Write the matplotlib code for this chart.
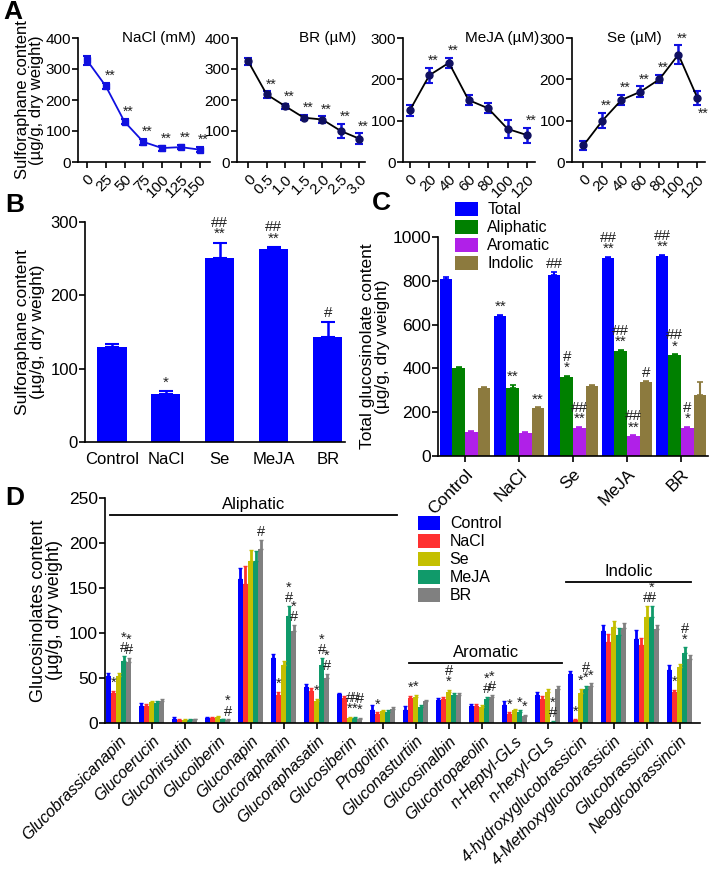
import numpy as np
import matplotlib.pyplot as plt

plt.rcParams['font.family'] = ['Liberation Sans', 'DejaVu Sans']
plt.rcParams['font.size'] = 11
plt.rcParams['axes.linewidth'] = 1.2
plt.rcParams['axes.facecolor'] = 'none'
plt.rcParams['xtick.major.width'] = 1.2
plt.rcParams['ytick.major.width'] = 1.2
plt.rcParams['xtick.major.size'] = 4
plt.rcParams['ytick.major.size'] = 4

# ---------------- data: panel A ----------------
nacl_x = [0, 25, 50, 75, 100, 125, 150]
nacl_y = [328, 245, 130, 65, 45, 48, 40]
nacl_err = [14, 10, 9, 10, 8, 6, 9]
nacl_sig = ['', '**', '**', '**', '**', '**', '**']

br_x = [0, 0.5, 1.0, 1.5, 2.0, 2.5, 3.0]
br_labels = ['0', '0.5', '1.0', '1.5', '2.0', '2.5', '3.0']
br_y = [325, 218, 180, 143, 137, 100, 75]
br_err = [12, 10, 8, 8, 10, 22, 17]
br_sig = ['', '**', '**', '**', '**', '**', '**']

meja_x = [0, 20, 40, 60, 80, 100, 120]
meja_y = [125, 210, 240, 150, 130, 80, 65]
meja_err = [13, 18, 12, 13, 12, 22, 18]
meja_sig = ['', '**', '**', '', '', '', '**']

se_x = [0, 20, 40, 60, 80, 100, 120]
se_y = [40, 100, 150, 170, 200, 260, 155]
se_err = [12, 18, 12, 13, 10, 22, 17]
se_sig = ['', '**', '**', '**', '**', '**', '**']

# ---------------- data: panel B ----------------
treatments = ['Control', 'NaCl', 'Se', 'MeJA', 'BR']
sfn_vals = [130, 65, 251, 263, 143]
sfn_err = [4, 4, 21, 3, 21]
sfn_sig = ['', '*', '##\n**', '##\n**', '#']

# ---------------- data: panel C ----------------
gsl_classes = ['Total', 'Aliphatic', 'Aromatic', 'Indolic']
total_vals = [810, 640, 825, 905, 915]
total_err = [8, 5, 15, 5, 5]
aliph_vals = [400, 310, 360, 480, 460]
aliph_err = [6, 15, 5, 4, 5]
arom_vals = [110, 105, 130, 92, 130]
arom_err = [4, 3, 3, 3, 3]
indol_vals = [310, 220, 320, 340, 280]
indol_err = [4, 3, 3, 3, 60]
total_sig = ['', '**', '##', '##\n**', '##\n**']
aliph_sig = ['', '**', '#\n*', '##\n**', '##\n*']
arom_sig = ['', '', '##\n**', '##\n**', '#\n*']
indol_sig = ['', '**', '', '#', '']

# ---------------- data: panel D ----------------
compounds = ['Glucobrassicanapin', 'Glucoerucin', 'Glucohirsutin', 'Glucoiberin',
             'Gluconapin', 'Glucoraphanin', 'Glucoraphasatin', 'Glucosiberin',
             'Progoitrin', 'Gluconasturtiin', 'Glucosinalbin', 'Glucotropaeolin',
             'n-Heptyl-GLs', 'n-hexyl-GLs', '4-hydroxyglucobrassicin',
             '4-Methoxyglucobrassicin', 'Glucobrassicin', 'Neoglcobrassincin']
d_control = [52, 19, 5, 6, 160, 72, 40, 32, 15, 15, 26, 19, 20, 31, 54, 102, 93, 59]
d_nacl = [33, 19, 3, 6, 155, 31, 36, 28, 10, 28, 27, 19, 10, 27, 3, 90, 87, 34]
d_se = [52, 23, 3, 7, 180, 64, 24, 6, 13, 29, 34, 18, 14, 35, 33, 107, 118, 62]
d_meja = [69, 22, 3, 4, 180, 119, 65, 6, 12, 18, 31, 27, 12, 1, 38, 98, 118, 78]
d_br = [68, 25, 4, 3, 193, 102, 50, 5, 16, 24, 31, 29, 8, 38, 41, 106, 104, 71]
d_control_err = [4, 3, 2, 1, 12, 5, 3, 1, 5, 4, 2, 2, 4, 3, 4, 7, 10, 6]
d_nacl_err = [3, 2, 1, 1, 20, 4, 3, 2, 2, 2, 2, 2, 2, 3, 1, 9, 8, 3]
d_se_err = [4, 2, 1, 1, 12, 5, 3, 1, 2, 2, 3, 2, 2, 3, 5, 6, 12, 4]
d_meja_err = [5, 2, 1, 1, 11, 11, 7, 1, 2, 2, 2, 2, 2, 1, 3, 8, 12, 6]
d_br_err = [4, 2, 1, 1, 10, 7, 4, 1, 2, 2, 2, 2, 1, 3, 3, 5, 5, 5]
d_sig = {(0, 1): '*', (0, 3): '*\n#', (0, 4): '*\n#',
         (3, 4): '*\n#', (4, 4): '#',
         (5, 1): '*', (5, 3): '*\n#', (5, 4): '*\n#',
         (6, 2): '*', (6, 3): '*\n#', (6, 4): '*\n#',
         (7, 2): '#\n*', (7, 3): '#\n*', (7, 4): '#\n*',
         (8, 1): '*', (9, 1): '*', (9, 2): '*', (10, 2): '#\n*',
         (11, 3): '*\n#', (11, 4): '*\n#',
         (12, 1): '*', (12, 3): '*', (12, 4): '*',
         (13, 3): '*\n#',
         (14, 1): '*', (14, 2): '*', (14, 3): '#\n*', (14, 4): '*',
         (16, 2): '#', (16, 3): '*\n#',
         (17, 1): '*', (17, 3): '#\n*'}

W, H = 709, 869
fig = plt.figure(figsize=(W / 100, H / 100), dpi=100)


def box(l, t, r, b):
    return [l / W, 1 - b / H, (r - l) / W, (b - t) / H]


def clean(ax):
    ax.spines['top'].set_visible(False)
    ax.spines['right'].set_visible(False)


ylab = 'Sulforaphane content\n(\u00b5g/g, dry weight)'
star_col = '#222222'

# ---------------- panel A ----------------
a_specs = [
    (box(78, 38, 210, 162), nacl_x, [str(v) for v in nacl_x], nacl_y, nacl_err, nacl_sig,
     'NaCl (mM)', 0.89, 'right', 400, (-12, 164), 'blue'),
    (box(237, 38, 365, 162), br_x, br_labels, br_y, br_err, br_sig,
     'BR (\u00b5M)', 0.93, 'right', 400, (-0.3, 3.15), 'black'),
    (box(403, 38, 535, 162), meja_x, [str(v) for v in meja_x], meja_y, meja_err, meja_sig,
     'MeJA (\u00b5M)', 1.03, 'right', 300, (-7, 128), 'black'),
    (box(572, 38, 705, 162), se_x, [str(v) for v in se_x], se_y, se_err, se_sig,
     'Se (\u00b5M)', 0.47, 'center', 300, (-12, 128), 'black'),
]
for i, (pos, xs, xl, ys, es, sig, title, tx, tha, ymax, xlim, lc) in enumerate(a_specs):
    ax = fig.add_axes(pos)
    clean(ax)
    if lc == 'blue':
        ax.errorbar(xs, ys, yerr=es, color='#1010e0', marker='s', ms=5, lw=1.3,
                    capsize=3, elinewidth=1.6, capthick=1.5)
    else:
        ax.errorbar(xs, ys, yerr=es, color='black', marker='o', ms=5, lw=1.3,
                    mfc='#101060', mec='#101060', ecolor='#1010e0',
                    capsize=3, elinewidth=1.8, capthick=1.5)
    ax.set_xlim(*xlim)
    ax.set_ylim(0, ymax)
    ax.set_yticks(np.arange(0, ymax + 1, 100))
    ax.set_xticks(xs)
    ax.set_xticklabels(xl, rotation=45, ha='right', rotation_mode='anchor', fontsize=11)
    ax.tick_params(axis='y', labelsize=11, pad=1)
    ax.text(tx, 1.0, title, transform=ax.transAxes, ha=tha, va='center', fontsize=11)
    for j, s in enumerate(sig):
        if not s:
            continue
        if i == 3 and j == len(sig) - 1:
            ax.annotate(s, (xs[j], ys[j] - es[j]), xytext=(4, -1), textcoords='offset points',
                        ha='center', va='top', fontsize=10, color=star_col)
        else:
            ax.annotate(s, (xs[j], ys[j] + es[j]), xytext=(3, 0), textcoords='offset points',
                        ha='center', va='bottom', fontsize=10, color=star_col)
    if i == 0:
        ax.set_ylabel(ylab, fontsize=12, labelpad=1, linespacing=0.95)

# ---------------- panel B ----------------
axb = fig.add_axes(box(85, 222, 345, 442))
clean(axb)
xb = np.arange(len(treatments))
axb.bar(xb, sfn_vals, width=0.54, color='#0000ff',
        yerr=[np.zeros(len(sfn_err)), sfn_err],
        error_kw=dict(ecolor='#0000ff', capsize=5, elinewidth=1.8, capthick=1.5))
axb.set_xlim(-0.5, 4.32)
axb.set_ylim(0, 300)
axb.set_yticks([0, 100, 200, 300])
axb.set_xticks(xb)
axb.set_xticklabels(treatments, fontsize=12)
axb.tick_params(axis='x', length=0, pad=7)
axb.tick_params(axis='y', labelsize=12, pad=1)
axb.set_ylabel(ylab, fontsize=12.5, labelpad=4, linespacing=0.95)
for j, s in enumerate(sfn_sig):
    if s:
        axb.text(xb[j], sfn_vals[j] + sfn_err[j] + 2, s, ha='center', va='bottom',
                 fontsize=11, linespacing=0.75, color=star_col)

# ---------------- panel C ----------------
axc = fig.add_axes(box(438, 237, 708, 456))
clean(axc)
xc = np.arange(len(treatments))
c_series = [(total_vals, total_err, total_sig, '#0000ff'),
            (aliph_vals, aliph_err, aliph_sig, '#008000'),
            (arom_vals, arom_err, arom_sig, '#b020e8'),
            (indol_vals, indol_err, indol_sig, '#8c7a3e')]
bw = 0.232
for k, (vals, errs, sig, col) in enumerate(c_series):
    xs = xc + (k - 1.5) * bw
    axc.bar(xs, vals, width=bw, color=col, label=gsl_classes[k],
            yerr=[np.zeros(len(errs)), errs],
            error_kw=dict(ecolor=col, capsize=2.5, elinewidth=1.5, capthick=1.2))
    for j, s in enumerate(sig):
        if s:
            axc.text(xs[j], vals[j] + errs[j] + 4, s, ha='center', va='bottom',
                     fontsize=11, linespacing=0.72, color=star_col)
axc.set_xlim(-0.5, 4.5)
axc.set_ylim(0, 1000)
axc.set_yticks([0, 200, 400, 600, 800, 1000])
axc.set_xticks(xc)
axc.set_xticklabels(treatments, rotation=45, ha='right', rotation_mode='anchor', fontsize=12.5)
axc.tick_params(axis='y', labelsize=12.5, pad=1)
axc.set_ylabel('Total glucosinolate content\n(\u00b5g/g, dry weight)', fontsize=12.5,
               labelpad=2, linespacing=0.95)
axc.legend(loc='upper left', bbox_to_anchor=(0.04, 1.19), frameon=False, fontsize=11.5,
           handlelength=1.4, handleheight=1.0, labelspacing=0.15, handletextpad=0.6,
           borderaxespad=0)

# ---------------- panel D ----------------
axd = fig.add_axes(box(105, 498, 700, 723))
clean(axd)
xd = np.arange(len(compounds))
d_series = [(d_control, d_control_err, '#0000ff', 'Control'),
            (d_nacl, d_nacl_err, '#ff3030', 'NaCl'),
            (d_se, d_se_err, '#c4bf00', 'Se'),
            (d_meja, d_meja_err, '#109a6a', 'MeJA'),
            (d_br, d_br_err, '#808080', 'BR')]
dw = 0.157
for k, (vals, errs, col, lab) in enumerate(d_series):
    xs = xd + (k - 2) * dw
    axd.bar(xs, vals, width=dw * 0.95, color=col, label=lab,
            yerr=[np.zeros(len(errs)), errs],
            error_kw=dict(ecolor=col, capsize=1.2, elinewidth=2.0, capthick=1.0))
    for j in range(len(compounds)):
        s = d_sig.get((j, k))
        if s:
            axd.text(xs[j], vals[j] + errs[j] + 1, s, ha='center', va='bottom',
                     fontsize=10.5, linespacing=0.68, color=star_col)
axd.set_xlim(-0.41, 17.62)
axd.set_ylim(0, 250)
axd.set_yticks([0, 50, 100, 150, 200, 250])
axd.set_xticks(xd)
axd.set_xticklabels(compounds, rotation=45, ha='right', rotation_mode='anchor',
                    fontsize=11.5, style='italic')
axd.tick_params(axis='y', labelsize=12.5, pad=1)
axd.set_ylabel('Glucosinolates content\n(\u00b5g/g, dry weight)', fontsize=13,
               labelpad=4, linespacing=0.95)
for (x0, x1, yl, name) in [(-0.25, 8.45, 231, 'Aliphatic'),
                           (8.8, 13.45, 67, 'Aromatic'),
                           (13.55, 17.35, 157, 'Indolic')]:
    axd.plot([x0, x1], [yl, yl], color='black', lw=1.3, clip_on=False)
    axd.text((x0 + x1) / 2, yl + 3, name, ha='center', va='bottom', fontsize=12)
axd.legend(loc='upper left', bbox_to_anchor=(0.515, 0.95), frameon=False, fontsize=11.5,
           handlelength=1.4, handleheight=1.0, labelspacing=0.15, handletextpad=0.6,
           borderaxespad=0)

# panel letters
for lab, (px, py) in {'A': (3, 12), 'B': (5, 205), 'C': (372, 203), 'D': (5, 498)}.items():
    fig.text(px / W, 1 - py / H, lab, fontsize=19, fontweight='bold', ha='left', va='center')

fig.savefig('out.png', dpi=100)
